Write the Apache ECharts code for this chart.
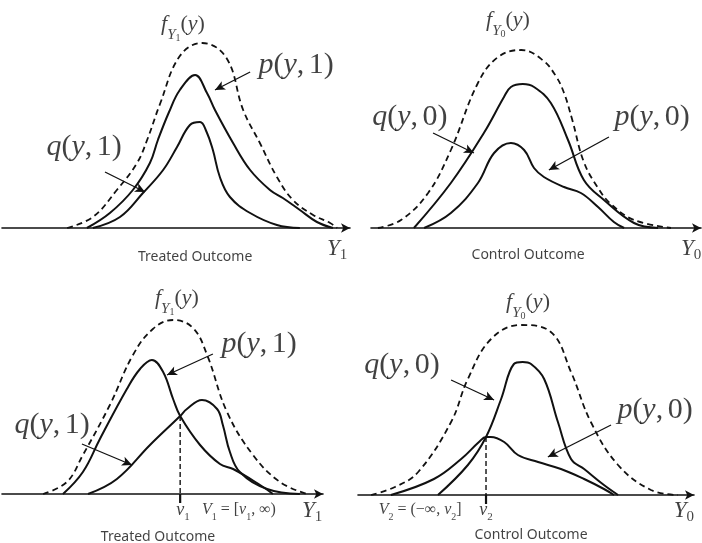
<!DOCTYPE html>
<html>
<head>
<meta charset="utf-8">
<script src="https://cdn.jsdelivr.net/npm/echarts@6/dist/echarts.min.js"></script>
<style>html,body{margin:0;padding:0;background:#fff;}#c{width:702px;height:543px;}</style>
</head>
<body>
<div id="c"></div>
<script>
// ---- data (x: outcome scale 0..100, y: density) ----
const fTop1 = [[18.7,0],[26.1,0.055],[33.0,0.19],[38.8,0.325],[41.7,0.44],[45.4,0.62],[51.1,0.86],[57.5,0.925],[64.5,0.85],[69.3,0.59],[74.1,0.425],[79.0,0.255],[83.6,0.14],[89.4,0.065],[94.3,0.025],[96.3,0]];
const pTop1 = [[24.4,0],[31.0,0.075],[37.6,0.19],[42.5,0.325],[44.8,0.44],[48,0.58],[51.1,0.69],[55.5,0.765],[58.9,0.675],[61.2,0.59],[66.4,0.425],[71.3,0.29],[77.0,0.19],[80.7,0.15],[85.6,0.09],[90.5,0.03],[95.1,0]];
const qTop1 = [[26.1,0],[33.9,0.055],[40.5,0.175],[46.3,0.29],[50.3,0.405],[54.0,0.515],[56.9,0.53],[58.8,0.48],[60.6,0.39],[62.6,0.255],[65.5,0.155],[71.3,0.075],[79.0,0.015],[85.6,0]];

const fTop0 = [[2.1,0],[9.1,0.04],[17.3,0.175],[24.2,0.39],[32.4,0.725],[38.5,0.855],[45.5,0.89],[52,0.84],[56,0.76],[58.5,0.675],[61,0.54],[64.5,0.33],[68.8,0.2],[72.7,0.12],[79.7,0.04],[90.9,0]];
const qTop0 = [[13.0,0],[24.2,0.225],[34.2,0.475],[40.3,0.655],[42.4,0.705],[46,0.72],[49.4,0.705],[54.5,0.625],[59.7,0.44],[64.5,0.24],[70.6,0.14],[79.7,0.025],[87.0,0]];
const pTop0 = [[16.1,0],[24.2,0.075],[32.4,0.225],[37.3,0.375],[42.4,0.425],[46.4,0.39],[49.4,0.3],[52.4,0.255],[58.5,0.205],[63.6,0.175],[68.8,0.105],[73.6,0.03],[76.7,0]];

const fBot1 = [[12.8,0],[20.2,0.06],[25.2,0.195],[33.6,0.445],[40.8,0.695],[47.0,0.825],[53.3,0.87],[59.5,0.83],[63.9,0.695],[70.1,0.41],[78.2,0.195],[86.6,0.06],[95.0,0]];
const pBot1 = [[19.0,0],[25.2,0.11],[30.5,0.275],[38.9,0.525],[43.0,0.625],[46.7,0.67],[50.2,0.61],[53.3,0.475],[55.5,0.39],[61.7,0.245],[67.9,0.15],[72.0,0.125],[80.4,0.045],[84.4,0]];
const qBot1 = [[26.8,0],[35.8,0.075],[46.1,0.245],[55.5,0.39],[57.6,0.425],[62.3,0.47],[67.0,0.425],[68.8,0.345],[71.0,0.21],[74.1,0.11],[82.6,0.025],[92.8,0]];
const v1 = 55.5, v1Top = 0.39;

const fBot0 = [[3.9,0],[11.0,0.04],[17.9,0.115],[27.7,0.365],[32.7,0.58],[39.6,0.78],[48.5,0.85],[57.4,0.815],[63.4,0.615],[69.3,0.365],[77.4,0.15],[87.2,0.025],[95.2,0]];
const qBot0 = [[23.8,0],[32.7,0.15],[38.1,0.29],[42.6,0.48],[46.4,0.655],[49,0.665],[51.5,0.655],[55.4,0.58],[59.5,0.365],[63.4,0.18],[67.3,0.13],[73.2,0.05],[77.4,0]];
const pBot0 = [[9.8,0],[22.6,0.08],[30.7,0.18],[36,0.265],[38.1,0.29],[39.5,0.29],[43.5,0.265],[47.6,0.2],[53.6,0.165],[60.4,0.13],[67.3,0.08],[73.2,0.03],[76.2,0]];
const v2 = 38.1, v2Top = 0.29;

// ---- styles ----
const serif = '"Liberation Serif","DejaVu Serif","Times New Roman",serif';
const ink = '#111';
function st(size, italic, lh, va){
  const o = {fontFamily:serif,fontSize:size,lineHeight:lh,color:ink,fontStyle:italic?'italic':'normal'};
  if (va) o.verticalAlign = va;
  return o;
}
const rich = {
  bi:st(30,true,34), bn:st(30,false,34), bsp:st(18,false,34),
  fi:st(22,true,30,'top'), fn:st(22,false,30,'top'),
  fs:st(15,true,18,'bottom'), fss:st(10,false,10,'bottom'),
  yi:st(23,true,26,'top'), ys:st(15,false,14,'bottom'),
  ni:st(18,true,22,'top'), ns:st(11,false,10,'bottom'),
  vi:st(16,true,20,'top'), vn:st(16,false,20,'top'), vs:st(10,false,10,'bottom'),
  sans:{fontFamily:'"Noto Sans",sans-serif',fontSize:14,color:ink}
};
function fLab(d){return '{fi|f}{fs|Y}{fss|'+d+'}{fn|(}{fi|y}{fn|)}';}
function bigLab(c,d){return '{bi|'+c+'}{bn|(}{bi|y}{bn|,}{bsp| }{bn|'+d+')}';}
function yLab(d){return '{yi|Y}{ys|'+d+'}';}
function lab(x,y,fmt){return {value:[x,y],label:{show:true,position:'inside',fontFamily:serif,formatter:fmt,rich:rich}};}

const grids = [
  {left:2,top:8,width:348,height:260},
  {left:371,top:8,width:330,height:260},
  {left:2,top:274,width:321,height:260},
  {left:358,top:275,width:336,height:260}
];
const xAxes = grids.map((g,i)=>({gridIndex:i,type:'value',min:0,max:100,
  axisLine:{show:true,onZero:true,symbol:['none','arrow'],symbolSize:[7,9],lineStyle:{color:ink,width:1.6}},
  axisTick:{show:false},axisLabel:{show:false},splitLine:{show:false}}));
const yAxes = grids.map((g,i)=>({gridIndex:i,type:'value',min:-0.2,max:1.1,show:false,splitLine:{show:false}}));

function curve(i,data,dashed){
  return {type:'line',xAxisIndex:i,yAxisIndex:i,data:data,smooth:0.4,symbol:'none',clip:false,silent:true,
    lineStyle:{color:ink,width:dashed?1.8:2,type:dashed?[6,4]:'solid'}};
}
function vline(i,v,top){
  return [
    {type:'line',xAxisIndex:i,yAxisIndex:i,data:[[v,top],[v,0]],symbol:'none',clip:false,silent:true,lineStyle:{color:ink,width:1.4,type:[5,3]}},
    {type:'line',xAxisIndex:i,yAxisIndex:i,data:[[v,0],[v,-0.045]],symbol:'none',clip:false,silent:true,lineStyle:{color:ink,width:2.2}}
  ];
}
function labels(i,items,arrows){
  return {type:'scatter',xAxisIndex:i,yAxisIndex:i,symbolSize:1,itemStyle:{color:'rgba(0,0,0,0)'},clip:false,silent:true,
    data:items,
    markLine:{silent:true,symbol:['none','arrow'],symbolSize:[7,10],label:{show:false},
      lineStyle:{color:ink,width:1.3,type:'solid'},emphasis:{disabled:true},
      data:arrows.map(a=>[{coord:[a[0],a[1]]},{coord:[a[2],a[3]]}])}};
}

const series = [
  curve(0,fTop1,true),curve(0,pTop1,false),curve(0,qTop1,false),
  labels(0,[lab(52.0,1.0,fLab('1')),lab(84.5,0.815,bigLab('p','1')),lab(23.6,0.405,bigLab('q','1')),
    lab(55.5,-0.145,'{sans|Treated Outcome}'),lab(96.3,-0.11,yLab('1'))],
    [[71.3,0.78,61.2,0.69],[29.6,0.28,41.1,0.18]]),

  curve(1,fTop0,true),curve(1,qTop0,false),curve(1,pTop0,false),
  labels(1,[lab(41.5,1.02,fLab('0')),lab(11.8,0.555,bigLab('q','0')),lab(85.2,0.555,bigLab('p','0')),
    lab(47.6,-0.135,'{sans|Control Outcome}'),lab(97.0,-0.11,yLab('0'))],
    [[18.8,0.475,31.2,0.375],[72.1,0.455,53.9,0.29]]),

  curve(2,fBot1,true),curve(2,pBot1,false),curve(2,qBot1,false),
  ...vline(2,v1,v1Top),
  labels(2,[lab(54.5,0.96,fLab('1')),lab(80.1,0.75,bigLab('p','1')),lab(15.6,0.345,bigLab('q','1')),
    lab(56.4,-0.09,'{ni|ν}{ns|1}'),lab(73.8,-0.09,'{vi|V}{vs|1}{vn| = [}{vi|ν}{vs|1}{vn|, ∞)}'),
    lab(96.6,-0.09,yLab('1')),lab(48.6,-0.215,'{sans|Treated Outcome}')],
    [[65.7,0.7,51.4,0.595],[24.9,0.25,40.5,0.145]]),

  curve(3,fBot0,true),curve(3,qBot0,false),curve(3,pBot0,false),
  ...vline(3,v2,v2Top),
  labels(3,[lab(50.6,0.945,fLab('0')),lab(13.1,0.65,bigLab('q','0')),lab(88.4,0.425,bigLab('p','0')),
    lab(18.5,-0.085,'{vi|V}{vs|2}{vn| = (−∞, }{vi|ν}{vs|2}{vn|]}'),lab(38.1,-0.085,'{ni|ν}{ns|2}'),
    lab(97.0,-0.085,yLab('0')),lab(51.5,-0.2,'{sans|Control Outcome}')],
    [[27.7,0.575,40.5,0.475],[75.3,0.35,56.5,0.19]])
];

const chart = echarts.init(document.getElementById('c'),null,{renderer:'canvas'});
chart.setOption({backgroundColor:'#fff',animation:false,grid:grids,xAxis:xAxes,yAxis:yAxes,series:series});
</script>
</body>
</html>
